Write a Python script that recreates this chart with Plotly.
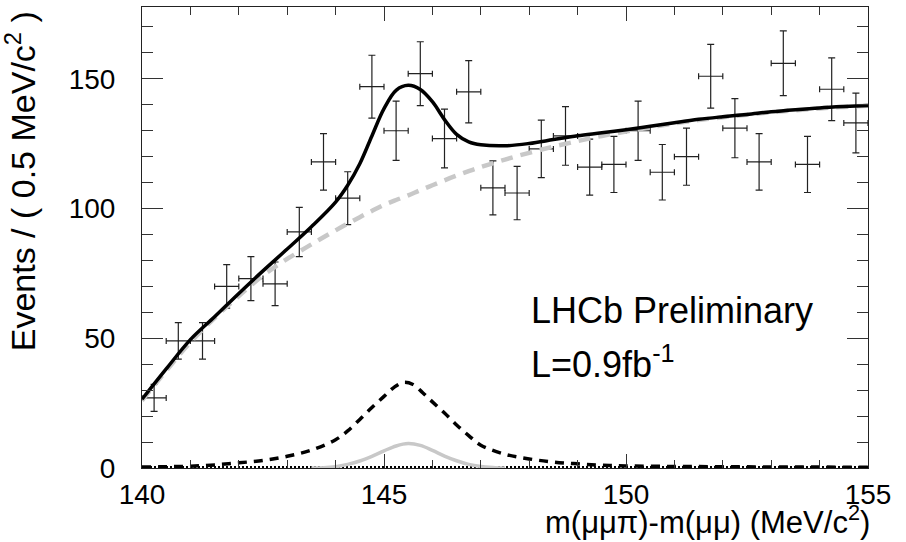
import plotly.graph_objects as go

# ---------------- data ----------------
bin_centers = [140.25, 140.75, 141.25, 141.75, 142.25, 142.75, 143.25, 143.75,
               144.25, 144.75, 145.25, 145.75, 146.25, 146.75, 147.25, 147.75,
               148.25, 148.75, 149.25, 149.75, 150.25, 150.75, 151.25, 151.75,
               152.25, 152.75, 153.25, 153.75, 154.25, 154.75]
counts = [27, 49, 49, 70, 73, 71, 91, 118, 104, 147, 130, 152, 127, 145, 108,
          106, 123, 128, 116, 117, 130, 114, 120, 151, 131, 118, 156, 117, 146, 133]
count_errors = [5.2, 7.0, 7.0, 8.4, 8.5, 8.4, 9.5, 10.9, 10.2, 12.1, 11.4, 12.3,
                11.3, 12.0, 10.4, 10.3, 11.1, 11.3, 10.8, 10.8, 11.4, 10.7, 11.0,
                12.3, 11.4, 10.9, 12.5, 10.8, 12.1, 11.5]
bin_half_width = 0.25

curve_x = [140, 140.5, 141, 141.5, 142, 142.5, 143, 143.5, 144, 144.25, 144.5,
           144.75, 145, 145.25, 145.5, 145.75, 146, 146.25, 146.5, 146.75, 147,
           147.5, 148, 148.5, 149, 149.5, 150, 150.5, 151, 151.5, 152, 152.5,
           153, 153.5, 154, 154.5, 155]
total_fit = [26.5, 38.2, 49.5, 58.3, 67.3, 76.0, 84.4, 93.0, 102.5, 109.0, 117.3,
             128.0, 138.5, 145.6, 147.5, 145.9, 141.2, 134.3, 128.6, 125.7, 124.6,
             124.2, 125.1, 126.6, 128.1, 129.2, 130.4, 131.7, 133.1, 134.4, 135.4,
             136.3, 137.3, 138.1, 138.8, 139.3, 139.7]
background = [26.0, 37.5, 48.5, 57.8, 66.3, 74.2, 80.6, 86.2, 91.6, 94.2, 96.7,
              99.1, 101.4, 103.3, 105.1, 107.1, 109.0, 110.9, 112.7, 114.4, 116.0,
              118.9, 121.5, 123.9, 126.0, 128.0, 129.7, 131.3, 132.8, 134.1, 135.2,
              136.2, 137.1, 137.9, 138.6, 139.2, 139.6]

signal_x = [140, 140.5, 141, 141.5, 142, 142.5, 143, 143.5, 144, 144.25, 144.5,
            144.75, 145, 145.2, 145.4, 145.6, 145.8, 146, 146.25, 146.5, 146.75,
            147, 147.5, 148, 148.5, 149, 149.5, 150, 151, 152, 153, 154, 155]
signal = [0.4, 0.5, 0.7, 1.2, 2.0, 2.9, 4.5, 6.9, 10.9, 14.3, 18.7, 23.3, 27.6,
          31.0, 33.0, 32.2, 29.0, 25.5, 21.2, 16.6, 12.5, 8.8, 5.3, 3.5, 2.3, 1.6,
          1.1, 0.8, 0.6, 0.5, 0.4, 0.35, 0.3]

peak_x = [143.5, 143.75, 144, 144.25, 144.5, 144.75, 145, 145.25, 145.5, 145.75,
          146, 146.25, 146.5, 146.75, 147, 147.25, 147.5]
peak = [0, 0.1, 0.5, 1.4, 2.7, 4.5, 6.6, 8.5, 9.4, 8.7, 6.8, 4.6, 2.8, 1.4, 0.6,
        0.2, 0]

zero_x = [140, 155]
zero_comp = [0.3, 0.3]

x_ticks = [140, 145, 150, 155]
y_ticks = [0, 50, 100, 150]

FONT = "Liberation Sans, Arial, Helvetica, sans-serif"

fig = go.Figure()

fig.add_trace(go.Scatter(
    x=bin_centers, y=counts, mode="markers",
    marker=dict(size=1, color="#222"),
    error_y=dict(type="data", array=count_errors, width=3.5, thickness=1.2, color="#222"),
    error_x=dict(type="constant", value=bin_half_width, width=3, thickness=1.2, color="#222"),
    hoverinfo="skip"))

fig.add_trace(go.Scatter(x=zero_x, y=zero_comp, mode="lines",
                         line=dict(color="black", width=2.5, dash="2px,2px")))
fig.add_trace(go.Scatter(x=peak_x, y=peak, mode="lines",
                         line=dict(color="#c8c8c8", width=3.5, shape="spline")))
fig.add_trace(go.Scatter(x=signal_x, y=signal, mode="lines",
                         line=dict(color="black", width=3.5, dash="9px,7px", shape="spline")))
fig.add_trace(go.Scatter(x=curve_x, y=background, mode="lines",
                         line=dict(color="#c8c8c8", width=4.5, dash="12px,8px", shape="spline")))
fig.add_trace(go.Scatter(x=curve_x, y=total_fit, mode="lines",
                         line=dict(color="black", width=3.5, shape="spline")))

axis_common = dict(
    showgrid=False, zeroline=False, showline=True, linecolor="#222", linewidth=1,
    mirror="ticks", ticks="inside", tickcolor="#333", tickwidth=1,
    tickfont=dict(family=FONT, size=28, color="black"),
)

fig.update_xaxes(range=[140, 155], tickvals=x_ticks, ticklen=14,
                 ticklabelstandoff=1,
                 minor=dict(dtick=1, tick0=140, ticks="inside", ticklen=8,
                            tickcolor="#333", tickwidth=1),
                 **axis_common)
fig.update_yaxes(range=[0, 177.7], tickvals=y_ticks, ticklen=21,
                 ticklabelstandoff=20,
                 minor=dict(dtick=10, tick0=0, ticks="inside", ticklen=11,
                            tickcolor="#333", tickwidth=1),
                 **axis_common)

fig.add_annotation(text="m(μμπ)-m(μμ) (MeV/c<sup>2</sup>)", xref="paper", yref="paper",
                   x=1.0, y=-0.113, xanchor="right", yanchor="middle", showarrow=False,
                   xshift=4,
                   font=dict(family=FONT, size=31, color="black"))
fig.add_annotation(text="Events / ( 0.5 MeV/c<sup>2</sup> )", xref="paper", yref="paper",
                   x=-0.168, y=0.622, xanchor="center", yanchor="middle", textangle=-90,
                   showarrow=False, font=dict(family=FONT, size=34, color="black"))
fig.add_annotation(text="LHCb Preliminary", xref="x", yref="paper",
                   x=148.0, y=0.342, xanchor="left", yanchor="middle", showarrow=False,
                   font=dict(family=FONT, size=36, color="black"))
fig.add_annotation(text="L=0.9fb<sup>-1</sup>", xref="x", yref="paper",
                   x=148.0, y=0.23, xanchor="left", yanchor="middle", showarrow=False,
                   font=dict(family=FONT, size=36, color="black"))

fig.update_layout(width=906, height=542, margin=dict(l=142, r=38, t=7, b=74),
                  paper_bgcolor="white", plot_bgcolor="white", showlegend=False)

fig.write_html("out.html", config={"displayModeBar": False},
               post_script="document.body.style.margin='0';"
                           "document.body.style.overflow='hidden';")
